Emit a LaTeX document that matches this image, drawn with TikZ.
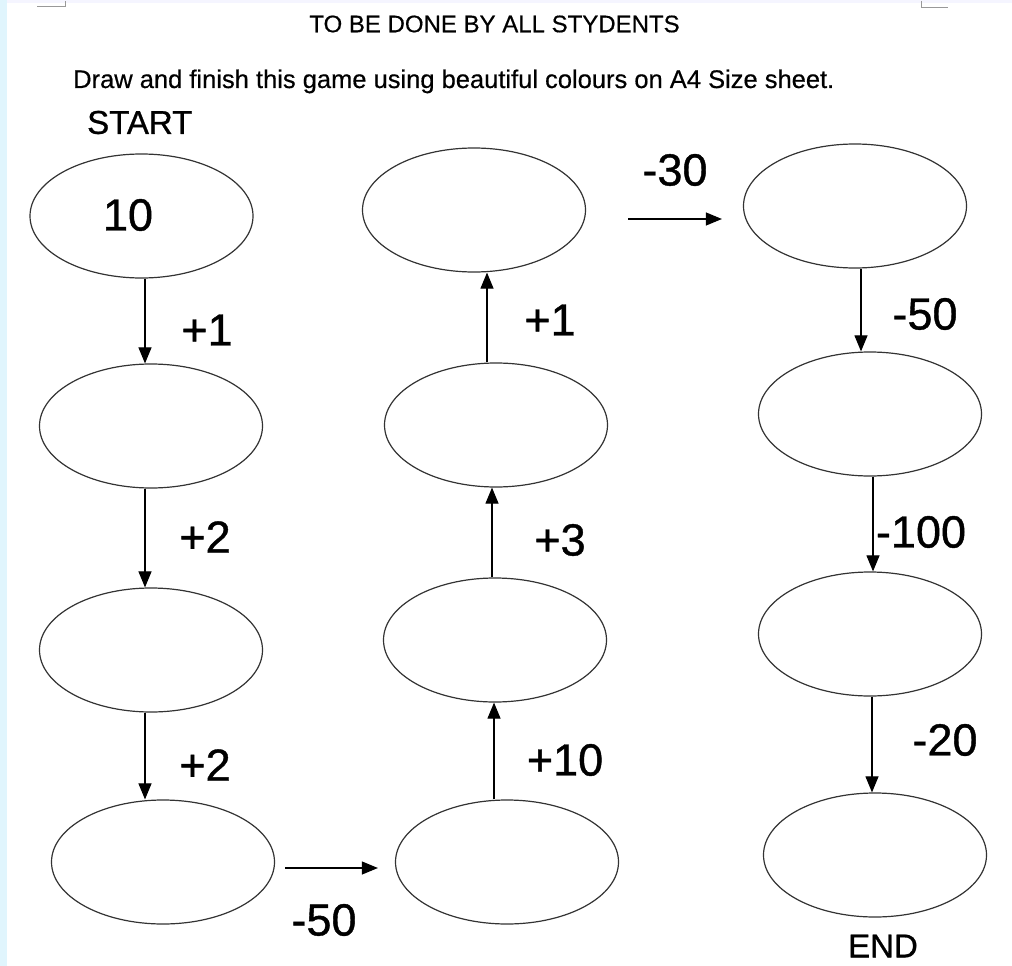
\documentclass[tikz,border=0pt]{standalone}
\usepackage{fontspec}
\setmainfont{Liberation Sans}
\newfontfamily\heavyfont{Liberation Sans}[FakeBold=0.9]
\newfontfamily\midfont{Liberation Sans}[FakeBold=0.5]
\usetikzlibrary{arrows.meta, shapes.geometric}

\begin{document}
\begin{tikzpicture}[x=1pt, y=-1pt,
                    box/.style={draw=black!80, ellipse, line width=1.2pt, minimum width=223pt, minimum height=124pt, inner sep=0pt},
                    arr/.style={-{Triangle[length=16pt, width=13pt]}, line width=1.1pt},
                    num/.style={inner sep=0pt, font=\heavyfont\fontsize{45}{54}\selectfont},
                    lbl/.style={inner sep=0pt, font=\heavyfont\fontsize{33}{40}\selectfont},
                    txt/.style={inner sep=0pt, font=\midfont\fontsize{24}{29}\selectfont}]
                \useasboundingbox (0,0) rectangle (1012,966);
                % page edge and corner marks
                \fill[cyan!12] (0,0) rectangle (7,966);
                \fill[blue!4] (7,0) rectangle (1012,3);
                \draw[black!40, line width=1pt] (37,7) -- (65,7) -- (65,1);
                \draw[black!40, line width=1pt] (921,1) -- (921,8) -- (948,8);
                % texts
                \node[txt] (title) at (494.5,24) {TO BE DONE BY ALL STYDENTS};
                \node[txt, anchor=base west, font=\midfont\fontsize{25.5}{30}\selectfont] (task) at (73,88) {Draw and finish this game using beautiful colours on A4 Size sheet.};
                \node[lbl, anchor=west] (start) at (87,122.5) {START};
                \node[lbl] (end) at (883,946) {END};
                % ovals
                \foreach \n/\x/\y in {a1/141.5/216, a2/151/426, a3/151/650, a4/163/862,
                                      b1/474/210, b2/496/425, b3/495/640, b4/507/862,
                                      c1/855/206, c2/870/414, c3/870/634, c4/875/855}{
                        \node[box] (\n) at (\x,\y) {};
                    }
                \node[num] (ten) at (128,215) {10};
                % steps down
                \foreach \s/\t/\x in {a1/a2/145, a2/a3/145, a3/a4/145, c1/c2/861, c2/c3/873, c3/c4/872}{
                        \draw[arr] (\s.south -| \x,0) -- (\t.north -| \x,0);
                    }
                % steps up
                \foreach \s/\t/\x in {b4/b3/494, b3/b2/492, b2/b1/487}{
                        \draw[arr] (\s.north -| \x,0) -- (\t.south -| \x,0);
                    }
                \draw[arr, shorten <=10pt, shorten >=17pt] (a4.east |- 0,868) -- (b4.west |- 0,868);
                \draw[arr, shorten <=42pt, shorten >=21pt] (b1.east |- 0,219) -- (c1.west |- 0,219);
                % step values
                \foreach \k/\x/\y/\v in {1/207/330/+1, 2/205/537/+2, 3/205/765/+2, 4/324/920/-50,
                                         5/565/760/+10, 6/560/540/+3, 7/550/320/+1, 8/675/170/-30,
                                         9/925/314/-50, 10/921/532/-100, 11/945/740/-20}{
                        \node[num] (v\k) at (\x,\y) {\v};
                    }
            \end{tikzpicture}
\end{document}
